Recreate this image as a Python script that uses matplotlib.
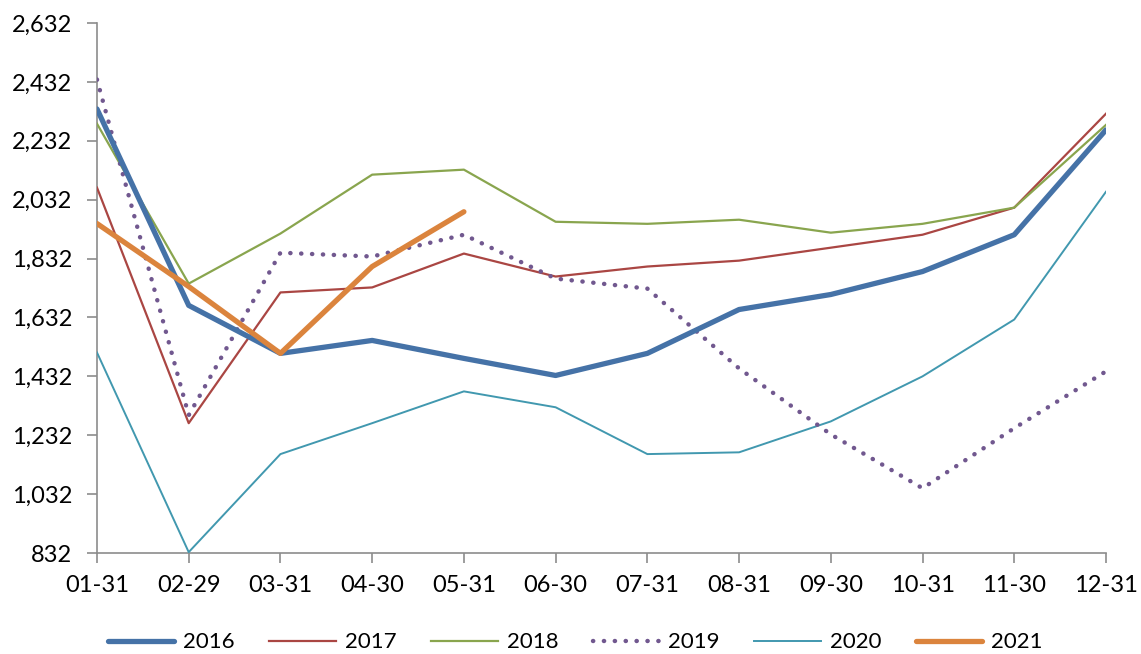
import matplotlib
matplotlib.use("Agg")
import matplotlib.pyplot as plt
from matplotlib.ticker import FuncFormatter

plt.rcParams['font.family'] = ['Lato', 'DejaVu Sans']

dates = ["01-31", "02-29", "03-31", "04-30", "05-31", "06-30",
         "07-31", "08-31", "09-30", "10-31", "11-30", "12-31"]

y2016 = [2340, 1673, 1510, 1554, 1493, 1435, 1510, 1659, 1710, 1788, 1913, 2269]
y2017 = [2073, 1273, 1717, 1734, 1849, 1771, 1805, 1825, 1869, 1913, 2005, 2324]
y2018 = [2290, 1747, 1917, 2117, 2134, 1957, 1950, 1964, 1920, 1950, 2005, 2286]
y2019 = [2440, 1300, 1852, 1839, 1913, 1764, 1730, 1459, 1235, 1052, 1256, 1449]
y2020 = [1513, 835, 1168, 1273, 1381, 1327, 1168, 1174, 1279, 1432, 1625, 2059]
y2021 = [1951, 1737, 1510, 1805, 1991]

yticks = [832, 1032, 1232, 1432, 1632, 1832, 2032, 2232, 2432, 2632]

fig = plt.figure(figsize=(11.41, 6.54), dpi=100)
ax = fig.add_axes([0.085, 0.1544, 0.8843, 0.8104])

x = list(range(len(dates)))
ax.plot(x, y2016, color="#4572A7", lw=3.8, solid_capstyle="round", label="2016", zorder=5)
ax.plot(x, y2017, color="#AA4643", lw=1.6, label="2017", zorder=3)
ax.plot(x, y2018, color="#89A54E", lw=1.6, label="2018", zorder=3)
ax.plot(x, y2019, color="#71588F", lw=3.2, linestyle=(0, (0.05, 2.4)),
        dash_capstyle="round", label="2019", zorder=4)
ax.plot(x, y2020, color="#4198AF", lw=1.4, label="2020", zorder=3)
ax.plot(x[:len(y2021)], y2021, color="#DB843D", lw=3.8, solid_capstyle="round",
        label="2021", zorder=6)

ax.set_xlim(0, len(dates) - 1)
ax.set_ylim(832, 2632)
ax.set_xticks(x)
ax.set_xticklabels(dates)
ax.set_yticks(yticks)
ax.yaxis.set_major_formatter(FuncFormatter(lambda v, p: f"{int(round(v)):,}"))

for s in ("top", "right"):
    ax.spines[s].set_visible(False)
for s in ("left", "bottom"):
    ax.spines[s].set_color("#8C8C8C")
    ax.spines[s].set_linewidth(1.2)
ax.tick_params(axis="both", colors="#8C8C8C", length=7, width=1.2,
               labelsize=17, labelcolor="black", direction="out")
ax.tick_params(axis="x", pad=9)
ax.tick_params(axis="y", pad=11)

ax.legend(loc="upper center", bbox_to_anchor=(0.474, -0.112), ncol=6, frameon=False,
          fontsize=16, handlelength=3.0, columnspacing=1.55, handletextpad=0.4)

fig.savefig("out.png", dpi=100)
